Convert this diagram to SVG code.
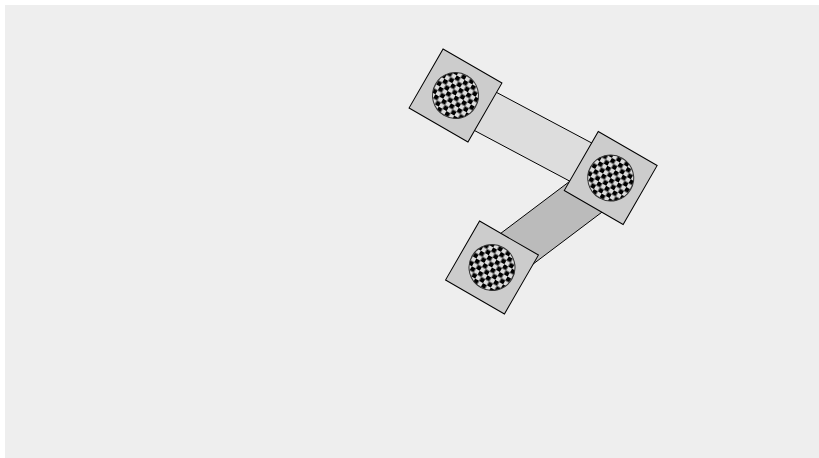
<svg xmlns="http://www.w3.org/2000/svg" width="819" height="458" viewBox="0 0 819 458">
<defs>
<pattern id="checker" patternUnits="userSpaceOnUse" x="0" y="0" width="9" height="9">
<rect x="0" y="0" width="9" height="9" fill="#dddddd"/>
<rect x="0" y="0" width="4.5" height="4.5" fill="#000"/>
<rect x="4.5" y="4.5" width="4.5" height="4.5" fill="#000"/>
</pattern>
</defs>
<style>
.bg{fill:#eeeeee;stroke:none}
.plate{fill:#cccccc;stroke:#000;stroke-width:1}
.disc{fill:url(#checker);stroke:#333;stroke-width:1}
.link1{fill:#dddddd;stroke:#000;stroke-width:1}
.link2{fill:#bbbbbb;stroke:#000;stroke-width:1}
</style>
<rect class="bg" x="5" y="5" width="814" height="453"/>
<g id="connectors">
<polygon class="link1" points="445.17,114.93 600.37,197.43 621.03,158.57 465.83,76.07"/>
<polygon class="link2" points="597.46,160.43 478.76,249.93 505.24,285.07 623.94,195.57"/>
</g>
<g id="joint1" transform="translate(455.5,95.5) rotate(30)">
<rect class="plate" x="-34" y="-34" width="68" height="68"/>
<circle class="disc" cx="0" cy="0" r="23"/>
</g>
<g id="joint2" transform="translate(610.7,178) rotate(30)">
<rect class="plate" x="-34" y="-34" width="68" height="68"/>
<circle class="disc" cx="0" cy="0" r="23"/>
</g>
<g id="joint3" transform="translate(492,267.5) rotate(30)">
<rect class="plate" x="-34" y="-34" width="68" height="68"/>
<circle class="disc" cx="0" cy="0" r="23"/>
</g>
</svg>
